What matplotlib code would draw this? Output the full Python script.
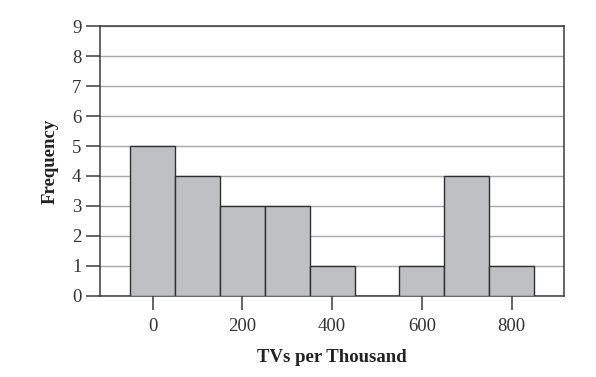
import matplotlib
matplotlib.use("Agg")
import matplotlib.pyplot as plt

bin_centers = [0, 100, 200, 300, 400, 500, 600, 700, 800]
frequencies = [5, 4, 3, 3, 1, 0, 1, 4, 1]
x_ticks = [0, 200, 400, 600, 800]
y_ticks = list(range(10))

plt.rcParams.update({
    "font.family": ["Liberation Serif", "DejaVu Serif"],
})

fig = plt.figure(figsize=(5.96, 3.77), dpi=100)
ax = fig.add_axes([0.167, 0.216, 0.779, 0.714])

ax.bar(bin_centers, frequencies, width=100, color="#bfc0c4",
       edgecolor="#2f2f2f", linewidth=1.0, zorder=3)

ax.set_xlim(-118, 916)
ax.set_ylim(0, 9)
ax.set_xticks(x_ticks)
ax.set_yticks(y_ticks)
ax.yaxis.grid(True, color="#a8a8a8", linewidth=1.0, zorder=0)
ax.set_axisbelow(True)

for side in ["left", "right", "top", "bottom"]:
    ax.spines[side].set_color("#3a3a3a")
    ax.spines[side].set_linewidth(1.1)

ax.tick_params(axis="both", direction="out", length=10, width=1.1,
               color="#3a3a3a", labelsize=13.5, labelcolor="#333333")
ax.tick_params(axis="y", pad=3)
ax.tick_params(axis="x", pad=6)

ax.set_xlabel("TVs per Thousand", fontsize=13.5, fontweight="bold",
              color="#222222", labelpad=10)
ax.set_ylabel("Frequency", fontsize=13.5, fontweight="bold",
              color="#222222", labelpad=10)

fig.savefig("out.png", dpi=100)
